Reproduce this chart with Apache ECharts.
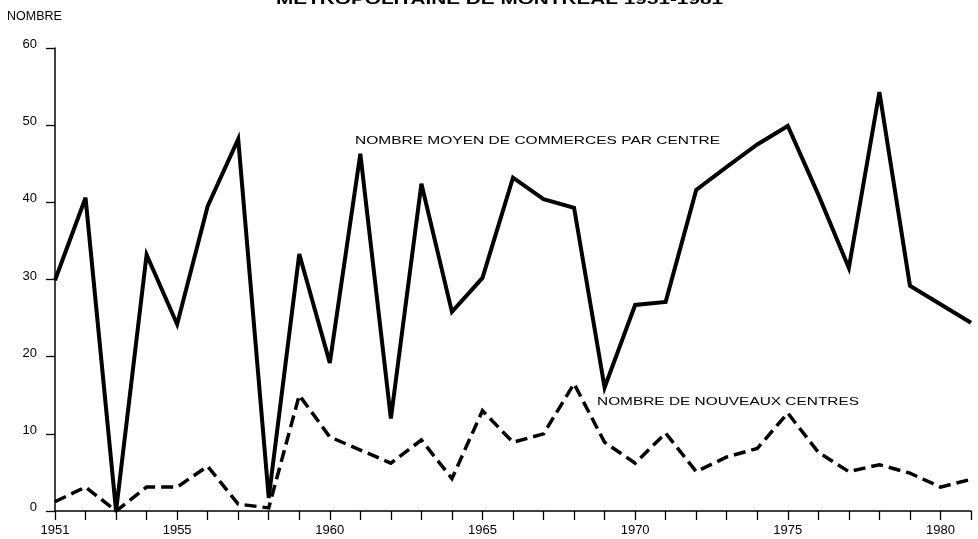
<!DOCTYPE html>
<html>
<head>
<meta charset="utf-8">
<script src="https://cdn.jsdelivr.net/npm/echarts@6/dist/echarts.min.js"></script>
<style>
html,body{margin:0;padding:0;background:#fff;}
#chart{width:978px;height:539px;}
</style>
</head>
<body>
<div id="chart"></div>
<script>
// ---- data ----
var years = [1951,1952,1953,1954,1955,1956,1957,1958,1959,1960,1961,1962,1963,1964,1965,1966,1967,1968,1969,1970,1971,1972,1973,1974,1975,1976,1977,1978,1979,1980,1981];
var moyenCommerces = [29.9,40.6,0,33.2,24.2,39.5,48.2,1.7,33.3,19.2,46.3,12.0,42.4,25.8,30.2,43.2,40.4,39.3,16.0,26.7,27.1,41.6,44.6,47.5,49.9,41.0,31.5,54.3,29.2,26.8,24.4];
var nouveauxCentres = [1.2,3.1,0,3.1,3.1,5.8,0.9,0.4,15.0,9.6,7.9,6.2,9.2,4.2,13.0,8.9,10.0,16.5,8.9,6.2,10.1,5.1,7.0,8.1,12.7,7.6,5.1,6.0,4.9,3.1,4.1];
var yTicks = [0,10,20,30,40,50,60];
var xLabelYears = [1951,1955,1960,1965,1970,1975,1980];
var titleText = 'METROPOLITAINE DE MONTREAL 1951-1981';
var yName = 'NOMBRE';
var label1 = 'NOMBRE MOYEN DE COMMERCES PAR CENTRE';
var label2 = 'NOMBRE DE NOUVEAUX CENTRES';

function pairs(xs, ys){ return xs.map(function(x,i){ return [x, ys[i]]; }); }

var FONT = '"Liberation Sans", Arial, sans-serif';
var cv = document.createElement('canvas').getContext('2d');
function fitScale(text, weight, size, target){
  cv.font = weight + ' ' + size + 'px ' + FONT;
  return target / cv.measureText(text).width;
}

function stretchedText(text, weight, size, left, cy, width){
  return {
    type: 'text', x: left, y: cy, scaleX: fitScale(text, weight, size, width), scaleY: 1,
    style: { x: 0, y: 0, text: text, fontSize: size, fontFamily: FONT, fontWeight: weight,
             fill: '#000', align: 'left', verticalAlign: 'middle' },
    silent: true
  };
}

var chart = echarts.init(document.getElementById('chart'), null, {renderer: 'canvas'});
chart.setOption({
  backgroundColor: '#fff',
  animation: false,
  grid: { left: 55, right: 7, top: 48, bottom: 28, containLabel: false },
  xAxis: {
    type: 'value', min: years[0], max: years[years.length-1], interval: 1,
    splitLine: { show: false },
    axisLine: { show: true, onZero: false, lineStyle: { color: '#000', width: 1.5 } },
    axisTick: { show: true, inside: false, length: 9, lineStyle: { color: '#000', width: 1.3 } },
    axisLabel: {
      show: true, margin: 13, color: '#000', fontSize: 13, fontFamily: FONT,
      formatter: function(v){ return xLabelYears.indexOf(v) >= 0 ? String(v) : ''; }
    }
  },
  yAxis: {
    type: 'value', min: yTicks[0], max: yTicks[yTicks.length-1], interval: 10,
    splitLine: { show: false },
    axisLine: { show: true, lineStyle: { color: '#000', width: 1.5 } },
    axisTick: { show: true, inside: false, length: 9, lineStyle: { color: '#000', width: 1.3 } },
    axisLabel: { show: true, margin: 18, color: '#000', fontSize: 13, fontFamily: FONT,
                 verticalAlign: 'bottom', lineHeight: 7 }
  },
  graphic: [
    stretchedText(titleText, 'bold', 14, 276, 0, 447),
    { type: 'text', left: 7, top: 10, style: { text: yName, fontSize: 12.5, fontFamily: FONT, fill: '#000' }, silent: true },
    stretchedText(label1, 'normal', 11.5, 355, 141, 365),
    stretchedText(label2, 'normal', 11.5, 597, 402, 262)
  ],
  series: [
    {
      name: label1, type: 'line', data: pairs(years, moyenCommerces),
      showSymbol: false, symbol: 'none', smooth: false,
      lineStyle: { color: '#000', width: 4, join: 'miter', miterLimit: 4 },
      z: 3
    },
    {
      name: label2, type: 'line', data: pairs(years, nouveauxCentres),
      showSymbol: false, symbol: 'none', smooth: false,
      lineStyle: { color: '#000', width: 3.5, type: [12, 6], join: 'miter', miterLimit: 4 },
      z: 2
    }
  ]
});
</script>
</body>
</html>
